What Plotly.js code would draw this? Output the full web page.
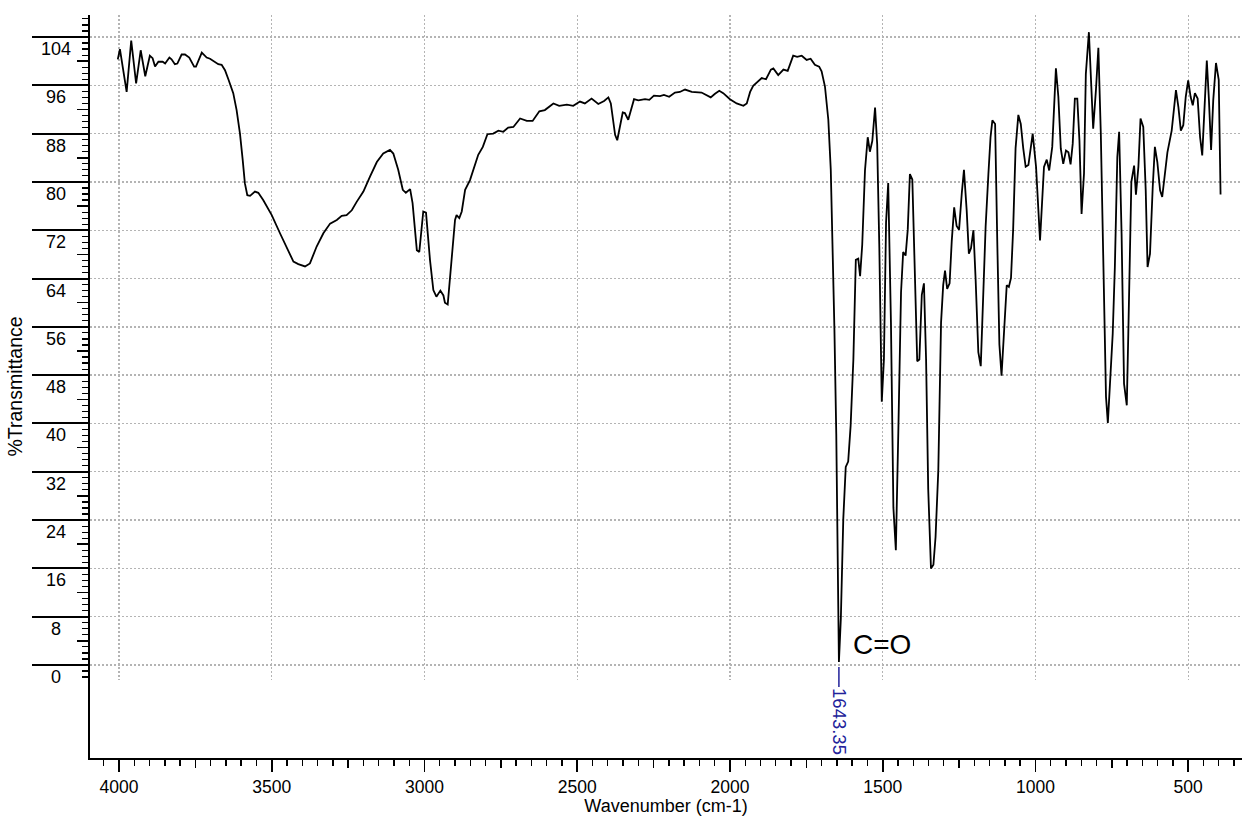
<!DOCTYPE html>
<html><head><meta charset="utf-8">
<script src="https://cdn.plot.ly/plotly-3.0.1.min.js"></script>
<style>html,body{margin:0;padding:0;background:#fff}#chart{width:1242px;height:816px}</style>
</head><body><div id="chart"></div>
<script>
// ---- data ----
const wavenumber = [4004,3997,3975,3960,3944,3929,3914,3899,3890,3882,3871,3857,3849,3835,3828,3817,3809,3795,3784,3770,3754,3748,3729,3713,3702,3686,3675,3664,3653,3642,3626,3615,3604,3595,3588,3580,3571,3555,3544,3528,3500,3473,3451,3429,3413,3391,3375,3353,3331,3309,3287,3271,3255,3238,3222,3200,3178,3156,3135,3113,3102,3086,3071,3061,3047,3039,3025,3017,3004,2995,2982,2971,2961,2948,2938,2933,2924,2917,2908,2900,2895,2886,2878,2867,2851,2838,2824,2809,2794,2775,2758,2742,2726,2709,2687,2665,2646,2624,2606,2578,2559,2534,2513,2491,2475,2453,2431,2412,2398,2390,2376,2369,2351,2344,2333,2314,2300,2278,2264,2249,2229,2216,2199,2180,2164,2147,2125,2093,2076,2063,2049,2035,2022,2000,1978,1956,1945,1934,1924,1913,1896,1882,1866,1858,1842,1825,1811,1793,1780,1765,1749,1736,1722,1708,1700,1689,1678,1670,1663,1658,1652,1646,1643.35,1637,1629,1621,1613,1605,1596,1588,1580,1574,1567,1558,1549,1542,1534,1525,1518,1511,1503,1496,1489,1482,1473,1465,1457,1449,1440,1433,1425,1418,1411,1403,1394,1387,1380,1372,1365,1358,1351,1342,1334,1327,1318,1309,1302,1296,1289,1281,1274,1266,1258,1250,1241,1234,1225,1218,1211,1203,1196,1187,1179,1171,1163,1154,1147,1141,1132,1125,1118,1111,1103,1094,1087,1080,1073,1065,1056,1048,1040,1032,1023,1009,998,985,972,963,955,945,933,925,917,909,900,892,885,878,871,863,856,849,841,835,825,817,811,802,794,786,780,775,769,763,756,747,740,732,726,718,710,701,696,686,677,671,663,656,647,639,633,625,616,609,601,592,585,576,568,554,546,540,532,524,516,508,500,492,485,478,469,461,454,446,439,432,425,418,409,400,394];
const transmittance = [100.3,102.0,94.9,103.4,96.3,101.8,97.5,100.9,100.5,99.1,99.9,99.9,99.6,100.6,100.3,99.5,99.6,101.1,101.1,100.6,99.1,99.1,101.4,100.6,100.4,99.9,99.5,99.4,98.5,97.0,94.7,91.9,88.0,83.6,79.8,77.8,77.7,78.4,78.2,77.0,74.5,71.5,69.0,66.8,66.4,66.0,66.5,69.3,71.5,73.1,73.7,74.4,74.5,75.3,76.7,78.4,80.9,83.3,84.7,85.3,84.7,82.0,78.7,78.2,78.8,76.5,68.7,68.4,75.1,74.9,67.1,62.1,61.0,62.0,61.2,60.0,59.7,63.8,69.3,73.7,74.5,74.0,75.1,78.7,80.3,82.5,84.5,85.8,87.9,88.0,88.5,88.3,89.0,89.1,90.5,90.1,90.1,91.7,91.9,93.0,92.6,92.8,92.6,93.3,93.0,93.8,92.9,93.4,94.0,93.0,87.8,86.9,91.5,91.4,90.3,93.7,93.5,93.7,93.6,94.3,94.2,94.4,94.1,94.8,94.9,95.3,94.9,94.8,94.4,94.0,94.6,95.1,94.7,93.7,93.0,92.6,93.0,94.9,95.9,96.4,97.2,97.0,98.6,98.8,97.7,98.6,98.4,100.9,100.7,100.9,100.2,100.4,99.4,99.1,98.3,95.8,90.3,82.0,67.8,55.5,38.3,13.8,0.5,7.7,24.2,32.8,33.7,39.6,50.6,67.1,67.3,64.4,69.6,81.9,87.4,85.0,86.8,92.3,86.2,69.0,43.6,50.6,73.3,79.8,56.7,26.1,19.0,38.3,61.7,68.4,67.8,72.1,81.3,80.4,64.1,50.3,50.6,61.3,63.2,50.6,29.1,16.0,16.6,21.2,32.2,56.7,62.9,65.3,62.3,63.2,70.2,75.8,72.7,72.1,78.2,82.0,75.2,68.1,69.0,72.0,64.1,51.8,49.5,62.9,72.7,81.3,87.4,90.2,89.6,70.2,53.1,47.9,55.5,62.9,62.6,64.1,72.1,85.6,91.1,89.6,85.6,82.5,82.8,88.0,82.5,70.3,82.5,83.7,81.9,85.8,98.8,94.1,85.5,83.0,85.2,84.9,82.9,86.3,93.8,93.8,86.9,74.7,81.4,97.9,104.8,96.3,88.8,95.2,102.2,88.0,71.4,54.9,44.4,40.1,46.0,54.9,65.9,84.1,88.3,71.4,46.6,43.0,54.9,80.0,82.7,77.9,82.5,90.5,89.1,78.6,65.9,68.1,79.2,85.8,83.3,78.6,77.5,81.9,84.9,88.5,92.4,95.2,92.4,88.5,89.4,94.1,96.8,94.1,92.7,94.7,93.8,87.4,84.4,92.4,100.1,93.5,85.3,93.5,99.7,96.9,77.9];
const peakWavenumbers = [1643.35];
const peakTransmittance = [0.5];
const peakLabels = ['1643.35'];
const bandLabels = ['C=O'];
const yTickValues = [0,8,16,24,32,40,48,56,64,72,80,88,96,104];
const yTickLabels = ['0','8','16','24','32','40','48','56','64','72','80','88','96','104'];
const xTickValues = [4000,3500,3000,2500,2000,1500,1000,500];
const xTickLabels = ['4000','3500','3000','2500','2000','1500','1000','500'];
const xTitle = 'Wavenumber (cm-1)';
const yTitle = '%Transmittance';

// ---- geometry (pixels) ----
const W = 1242, H = 816, L = 90, R = 0, T = 15, B = 58;
const plotW = W - L - R, plotH = H - T - B;
const pxPerUnit = 628 / 104;              // y pixels per % unit
const yTop = 104 + (37 - T) / pxPerUnit;
const yBottom = -((H - B) - 665) / pxPerUnit;
const gridBottomPx = 680;
const y2Bottom = -(gridBottomPx - 665) / pxPerUnit;
const y2DomainStart = ((H - B) - gridBottomPx) / plotH;
const pxPerWn = 763.7 / 2500;
const xLeft = 4000 + (119 - L) / pxPerWn;
const xRight = 4000 - (W - R - 119) / pxPerWn;

const FONT = 'Liberation Sans, Arial, sans-serif';
const gridColor = '#b4b4b4';
const gridDash = '2px,2px';
const peakColor = '#22229a';

const traces = [{
  type: 'scatter', mode: 'lines',
  x: wavenumber, y: transmittance,
  xaxis: 'x2', yaxis: 'y2',
  line: {color: '#000000', width: 1.8},
  hoverinfo: 'skip', showlegend: false
}];

const annotations = [];
yTickValues.forEach((v, i) => {
  annotations.push({
    xref: 'paper', yref: 'y', x: (56 - L) / plotW, y: v, yshift: -12,
    text: yTickLabels[i], showarrow: false, xanchor: 'center', yanchor: 'middle',
    font: {family: FONT, size: 18, color: '#000'}
  });
});
peakWavenumbers.forEach((w, i) => {
  annotations.push({
    xref: 'x2', yref: 'y2', x: w, y: peakTransmittance[i],
    text: peakLabels[i], textangle: 90, showarrow: true, arrowhead: 0,
    arrowwidth: 1.5, arrowcolor: peakColor, ax: 0, ay: 60, standoff: 5,
    font: {family: FONT, size: 18.5, color: peakColor}
  });
  annotations.push({
    xref: 'x2', yref: 'y2', x: w, y: peakTransmittance[i],
    text: bandLabels[i], showarrow: false, xanchor: 'left', yanchor: 'middle',
    xshift: 12, yshift: 17,
    font: {family: FONT, size: 28, color: '#000'}
  });
});

const layout = {
  width: W, height: H,
  margin: {l: L, r: R, t: T, b: B, pad: 0},
  paper_bgcolor: '#ffffff', plot_bgcolor: 'rgba(0,0,0,0)',
  showlegend: false,
  font: {family: FONT, color: '#000'},
  xaxis: {
    domain: [0, 1], range: [xLeft, xRight], anchor: 'y',
    tickmode: 'array', tickvals: xTickValues, ticktext: xTickLabels,
    ticks: 'outside', ticklen: 12, tickwidth: 1.6, tickcolor: '#000',
    tickfont: {family: FONT, size: 17.5, color: '#000'},
    showline: true, linewidth: 2, linecolor: '#000',
    showgrid: false, zeroline: false, automargin: false,
    minor: {tickmode: 'linear', tick0: 0, dtick: 50, ticks: 'outside', ticklen: 6, tickwidth: 1.4, tickcolor: '#000', showgrid: false},
    title: {text: xTitle, font: {family: FONT, size: 18, color: '#000'}, standoff: 5}
  },
  yaxis: {
    domain: [0, 1], range: [yBottom, yTop], anchor: 'x',
    tickmode: 'array', tickvals: yTickValues,
    ticks: 'outside', ticklen: 56, tickwidth: 2, tickcolor: '#000',
    showticklabels: false,
    showline: true, linewidth: 2, linecolor: '#000',
    showgrid: true, gridcolor: gridColor, griddash: gridDash, gridwidth: 1.3,
    zeroline: false, automargin: false,
    title: {text: yTitle, font: {family: FONT, size: 19.5, color: '#000'}, standoff: 4}
  },
  xaxis2: {
    domain: [0, 1], range: [xLeft, xRight], anchor: 'free', position: 0,
    tickmode: 'linear', tick0: 0, dtick: 500,
    ticks: 'outside', ticklen: 9, tickwidth: 1.5, tickcolor: '#000',
    showticklabels: false, showline: false,
    showgrid: true, gridcolor: gridColor, griddash: gridDash, gridwidth: 1.3,
    zeroline: false, automargin: false,
    minor: {tickmode: 'linear', tick0: 0, dtick: 250, ticks: 'outside', ticklen: 9, tickwidth: 1.5, tickcolor: '#000', showgrid: false}
  },
  yaxis2: {
    domain: [y2DomainStart, 1], range: [y2Bottom, yTop], anchor: 'x2',
    tickmode: 'linear', tick0: 0, dtick: 4,
    ticks: 'outside', ticklen: 12, tickwidth: 1.5, tickcolor: '#000',
    showticklabels: false, showline: false, showgrid: false, zeroline: false, automargin: false,
    minor: {tickmode: 'linear', tick0: 0, dtick: 1, ticks: 'outside', ticklen: 7, tickwidth: 1.2, tickcolor: '#000', showgrid: false}
  },
  annotations: annotations
};

Plotly.newPlot('chart', traces, layout, {displayModeBar: false, staticPlot: true});
</script>
</body></html>
